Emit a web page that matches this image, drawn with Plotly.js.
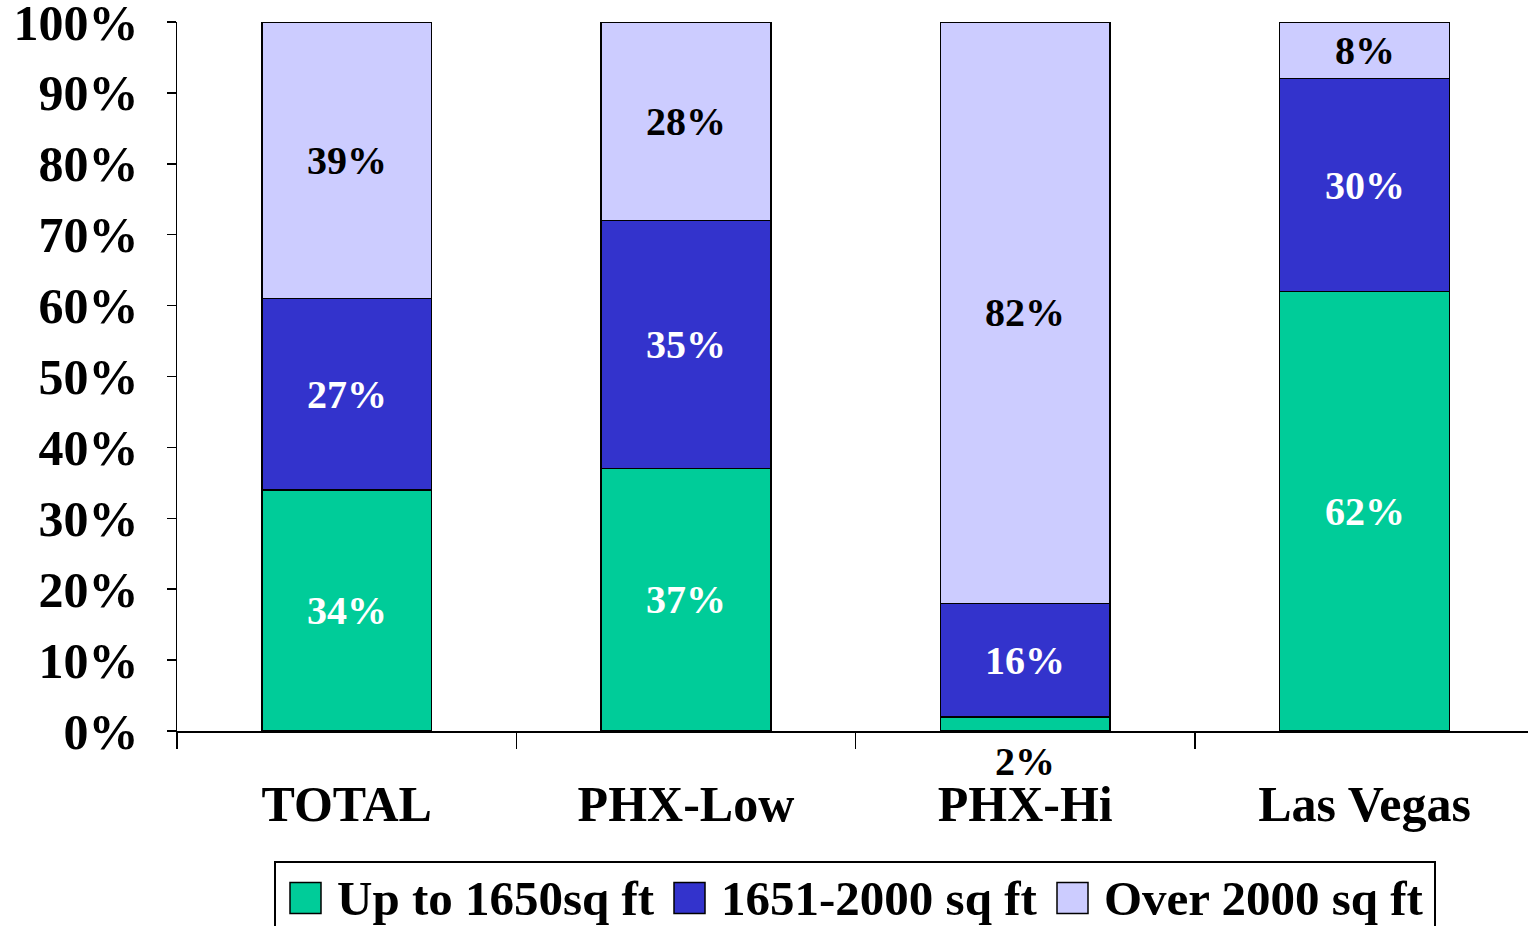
<!DOCTYPE html>
<html>
<head>
<meta charset="utf-8">
<script src="https://cdn.plot.ly/plotly-3.0.1.min.js"></script>
<style>
  html, body { margin: 0; padding: 0; background: #ffffff; }
  #chart { width: 1528px; height: 926px; }
</style>
</head>
<body>
<div id="chart"></div>
<script>
// ---- Data ----
const categories = ['TOTAL', 'PHX-Low', 'PHX-Hi', 'Las Vegas'];
const seriesNames = ['Up to 1650sq ft', '1651-2000 sq ft', 'Over 2000 sq ft'];
const upTo1650 = [34, 37, 2, 62];
const from1651to2000 = [27, 35, 16, 30];
const over2000 = [39, 28, 82, 8];
const yTickValues = [0, 10, 20, 30, 40, 50, 60, 70, 80, 90, 100];

// ---- Styles ----
const seriesValues = [upTo1650, from1651to2000, over2000];
const colors = ['#00CC99', '#3333CC', '#CCCCFF'];
const labelColors = ['#FFFFFF', '#FFFFFF', '#000000'];
const FONT = 'Liberation Serif, Times New Roman, serif';

// plot area geometry (pixels) used for paper-coordinate conversion of legend pieces
const W = 1528, H = 926;
const M = { l: 177, r: 0, t: 22, b: 195 };
const plotW = W - M.l - M.r, plotH = H - M.t - M.b;
const px2x = px => (px - M.l) / plotW;
const py2y = py => (H - M.b - py) / plotH;
const categoryPx = 339.3;

const traces = seriesValues.map((vals, s) => ({
  type: 'bar',
  name: seriesNames[s],
  x: categories,
  y: vals,
  marker: { color: colors[s], line: { color: '#000000', width: 1.5 } },
  hoverinfo: 'none'
}));

// value labels from data
const annotations = [];
categories.forEach((cat, i) => {
  let base = 0;
  seriesValues.forEach((vals, s) => {
    const v = vals[i];
    if (v < 5) {
      annotations.push({
        x: cat, y: base, xref: 'x', yref: 'y', yanchor: 'top', yshift: -6,
        text: v + '%', showarrow: false,
        font: { family: FONT, size: 40, weight: 'bold', color: '#000000' }
      });
    } else {
      annotations.push({
        x: cat, y: base + v / 2, xref: 'x', yref: 'y', yanchor: 'middle',
        text: v + '%', showarrow: false,
        font: { family: FONT, size: 40, weight: 'bold', color: labelColors[s] }
      });
    }
    base += v;
  });
});

// custom legend (large swatches)
const shapes = [];
const legendBox = { x0: 275, x1: 1435, y0: 862, y1: 940 };
shapes.push({
  type: 'rect', xref: 'paper', yref: 'paper',
  x0: px2x(legendBox.x0), x1: px2x(legendBox.x1),
  y0: py2y(legendBox.y1), y1: py2y(legendBox.y0),
  line: { color: '#000000', width: 2 }, fillcolor: 'rgba(0,0,0,0)'
});
const swatchX = [290, 674, 1057];
const swatchSize = 31;
const legendCenterY = 898;
seriesNames.forEach((nm, s) => {
  shapes.push({
    type: 'rect', xref: 'paper', yref: 'paper',
    x0: px2x(swatchX[s]), x1: px2x(swatchX[s] + swatchSize),
    y0: py2y(legendCenterY + swatchSize / 2), y1: py2y(legendCenterY - swatchSize / 2),
    line: { color: '#000000', width: 1.5 }, fillcolor: colors[s]
  });
  annotations.push({
    xref: 'paper', yref: 'paper',
    x: px2x(swatchX[s] + swatchSize + 14), y: py2y(legendCenterY),
    xanchor: 'left', yanchor: 'middle',
    text: nm, showarrow: false,
    font: { family: FONT, size: 49, weight: 'bold', color: '#000000' }
  });
});

const layout = {
  width: W, height: H,
  margin: M,
  paper_bgcolor: '#ffffff', plot_bgcolor: '#ffffff',
  barmode: 'stack',
  bargap: 0.5,
  showlegend: false,
  font: { family: FONT, color: '#000000' },
  xaxis: {
    type: 'category',
    range: [-0.5, -0.5 + plotW / categoryPx],
    tickson: 'boundaries',
    ticks: 'outside', ticklen: 16, tickwidth: 1.5, tickcolor: '#000000',
    showline: true, linecolor: '#000000', linewidth: 1.5,
    showgrid: false, zeroline: false,
    ticklabelstandoff: 28,
    tickfont: { family: FONT, size: 50, weight: 'bold', color: '#000000' }
  },
  yaxis: {
    range: [0, 100],
    tickmode: 'array', tickvals: yTickValues,
    ticktext: yTickValues.map(v => v + '%'),
    ticks: 'outside', ticklen: 9, tickwidth: 1.5, tickcolor: '#000000',
    showline: true, linecolor: '#000000', linewidth: 1.5,
    showgrid: false, zeroline: false,
    ticklabelstandoff: 18,
    ticklabeloverflow: 'allow',
    tickfont: { family: FONT, size: 50, weight: 'bold', color: '#000000' }
  },
  annotations: annotations,
  shapes: shapes
};

Plotly.newPlot('chart', traces, layout, { displayModeBar: false, staticPlot: true });
</script>
</body>
</html>
